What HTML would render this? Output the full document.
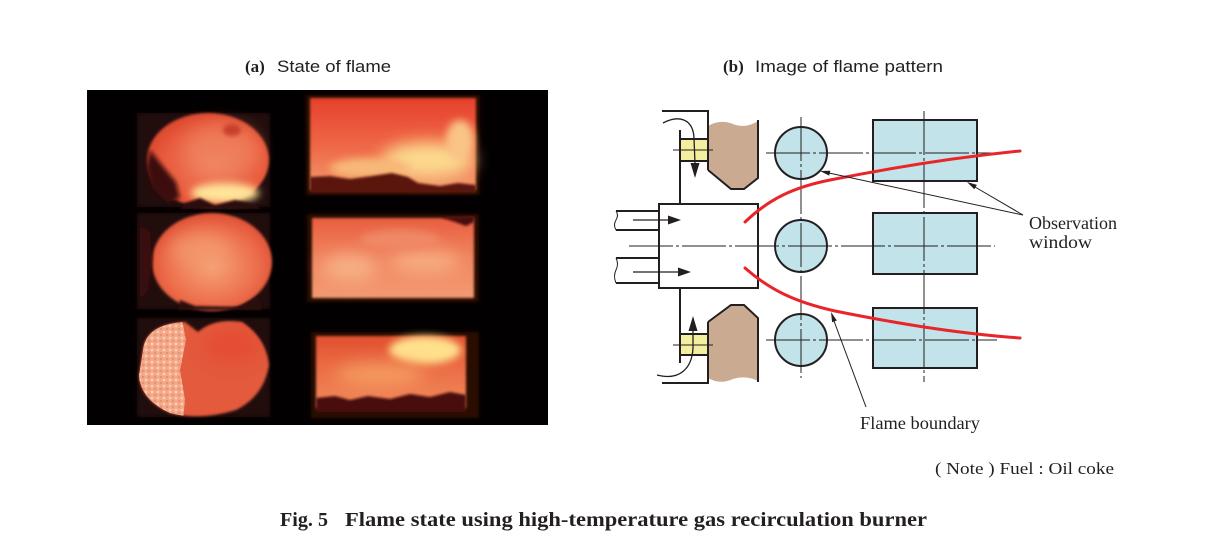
<!DOCTYPE html>
<html><head><meta charset="utf-8">
<style>
html,body{margin:0;padding:0;background:#fff;}
svg{display:block;}
</style></head><body>
<svg width="1223" height="539" viewBox="0 0 1223 539" xmlns="http://www.w3.org/2000/svg">
<defs>
<filter id="b1" x="-20%" y="-20%" width="140%" height="140%"><feGaussianBlur stdDeviation="1.2"/></filter>
<filter id="b2" x="-20%" y="-20%" width="140%" height="140%"><feGaussianBlur stdDeviation="2"/></filter>
<filter id="b4" x="-40%" y="-40%" width="180%" height="180%"><feGaussianBlur stdDeviation="4"/></filter>
<filter id="b8" x="-60%" y="-60%" width="220%" height="220%"><feGaussianBlur stdDeviation="8"/></filter>
<linearGradient id="lg2" x1="0" y1="0" x2="0" y2="1">
<stop offset="0" stop-color="#e6402c"/><stop offset="0.55" stop-color="#ef6a48"/><stop offset="1" stop-color="#f49a6c"/>
</linearGradient>
<radialGradient id="rg1" cx="0.55" cy="0.55" r="0.6">
<stop offset="0" stop-color="#f08060"/><stop offset="0.7" stop-color="#e85a3c"/><stop offset="1" stop-color="#d8442e"/>
</radialGradient>
<radialGradient id="rg3" cx="0.5" cy="0.55" r="0.6">
<stop offset="0" stop-color="#f6a276"/><stop offset="0.65" stop-color="#ec6c4a"/><stop offset="1" stop-color="#d94830"/>
</radialGradient>
<linearGradient id="lg4" x1="0" y1="0" x2="0" y2="1">
<stop offset="0" stop-color="#e85e40"/><stop offset="0.5" stop-color="#f08560"/><stop offset="1" stop-color="#f39a72"/>
</linearGradient>
<linearGradient id="lg6" x1="0" y1="0" x2="0" y2="1">
<stop offset="0" stop-color="#e0502f"/><stop offset="0.5" stop-color="#ec7048"/><stop offset="1" stop-color="#f08a5a"/>
</linearGradient>
<pattern id="tex" x="0" y="0" width="6" height="6" patternUnits="userSpaceOnUse">
<rect width="6" height="6" fill="#f2a888"/>
<circle cx="2" cy="2" r="1.3" fill="#fbd0b0"/>
<circle cx="5" cy="5" r="1" fill="#e88868"/>
</pattern>
<clipPath id="c5"><path d="M143,350 Q146,324 185,322 L198,332 Q214,318 242,322 Q266,338 269,365 Q264,396 236,410 Q200,421 170,413 Q141,400 139,376 Z"/></clipPath>
</defs>

<!-- (a) photo panel -->
<rect x="87" y="90" width="461" height="335" fill="#020000"/>

<!-- photo 1 -->
<rect x="137" y="113" width="133" height="94" fill="#240707" filter="url(#b2)"/>
<ellipse cx="208" cy="160" rx="61" ry="47" fill="url(#rg1)" filter="url(#b1)"/>
<ellipse cx="222" cy="150" rx="38" ry="26" fill="#f08a66" opacity="0.55" filter="url(#b8)"/>
<path d="M150,150 L162,165 L176,182 L180,198 L168,203 L152,188 L146,168 Z" fill="#3c0c08" filter="url(#b2)"/>
<ellipse cx="232" cy="130" rx="9" ry="6" fill="#c8402c" filter="url(#b2)"/>
<ellipse cx="225" cy="193" rx="34" ry="10" fill="#ffe49a" filter="url(#b4)"/>
<path d="M185,203 L200,198 L215,205 L235,200 L255,204 L262,209 L180,209 Z" fill="#2a0808" filter="url(#b1)"/>

<!-- photo 2 -->
<rect x="306" y="95" width="174" height="100" fill="#2a0806" filter="url(#b2)"/>
<rect x="310" y="98" width="166" height="92" fill="url(#lg2)" filter="url(#b1)"/>
<ellipse cx="428" cy="160" rx="46" ry="18" fill="#fcd98e" filter="url(#b8)"/>
<ellipse cx="370" cy="168" rx="40" ry="10" fill="#f8b878" filter="url(#b4)"/>
<ellipse cx="460" cy="140" rx="14" ry="20" fill="#f9c486" filter="url(#b4)"/>
<path d="M310,177 L330,176 L350,179 L372,176 L392,173 L408,177 L418,183 L440,186 L458,183 L476,185 L476,193 L310,193 Z" fill="#5a140c" filter="url(#b1)"/>

<!-- photo 3 -->
<rect x="137" y="213" width="133" height="96" fill="#240707" filter="url(#b2)"/>
<ellipse cx="212" cy="262" rx="60" ry="49" fill="url(#rg3)" filter="url(#b1)"/>
<ellipse cx="200" cy="250" rx="30" ry="16" fill="#f49c72" opacity="0.7" filter="url(#b8)"/>
<path d="M140,225 L150,232 L152,260 L148,290 L140,300 Z" fill="#3a0c08" filter="url(#b2)"/>
<path d="M180,300 L195,306 L240,307 L260,296 L262,310 L178,310 Z" fill="#2a0808" filter="url(#b1)"/>

<!-- photo 4 -->
<rect x="307" y="214" width="172" height="88" fill="#2a0806" filter="url(#b2)"/>
<rect x="312" y="218" width="162" height="80" fill="url(#lg4)" filter="url(#b1)"/>
<ellipse cx="350" cy="268" rx="28" ry="14" fill="#f7ae84" filter="url(#b8)"/>
<ellipse cx="425" cy="262" rx="35" ry="12" fill="#f7aa80" filter="url(#b8)"/>
<ellipse cx="400" cy="240" rx="40" ry="10" fill="#f08866" filter="url(#b4)"/>
<path d="M440,217 L455,222 L466,226 L474,222 L474,216 Z" fill="#4a100a" filter="url(#b1)"/>

<!-- photo 5 -->
<rect x="137" y="318" width="133" height="99" fill="#240707" filter="url(#b2)"/>
<path d="M143,350 Q146,324 185,322 L198,332 Q214,318 242,322 Q266,338 269,365 Q264,396 236,410 Q200,421 170,413 Q141,400 139,376 Z" fill="#e35a3c" filter="url(#b1)"/>
<g clip-path="url(#c5)">
<path d="M135,320 L182,320 L186,340 L180,370 L185,400 L183,420 L135,420 Z" fill="url(#tex)"/>
<ellipse cx="232" cy="345" rx="30" ry="18" fill="#e54a30" opacity="0.7" filter="url(#b8)"/>
</g>

<!-- photo 6 -->
<rect x="311" y="332" width="168" height="86" fill="#2a0806" filter="url(#b2)"/>
<rect x="316" y="336" width="150" height="72" fill="url(#lg6)" filter="url(#b1)"/>
<ellipse cx="425" cy="350" rx="36" ry="14" fill="#ffe08c" filter="url(#b4)"/>
<ellipse cx="380" cy="375" rx="45" ry="12" fill="#f4985e" filter="url(#b8)"/>
<path d="M316,398 L335,396 L350,400 L368,396 L390,399 L410,394 L430,397 L450,392 L466,395 L466,412 L316,412 Z" fill="#4a0e0a" filter="url(#b1)"/>

<!-- titles -->
<g fill="#231f20">
<text x="245" y="72" font-family="Liberation Serif, serif" font-weight="bold" font-size="17">(a)</text>
<text x="277" y="72" font-family="Liberation Sans, sans-serif" font-size="17" textLength="114" lengthAdjust="spacingAndGlyphs">State of flame</text>
<text x="723" y="72" font-family="Liberation Serif, serif" font-weight="bold" font-size="17">(b)</text>
<text x="755" y="72" font-family="Liberation Sans, sans-serif" font-size="17" textLength="188" lengthAdjust="spacingAndGlyphs">Image of flame pattern</text>
</g>

<!-- (b) diagram -->
<!-- brown blocks -->
<path d="M708,126 Q720,119 733,124 Q746,129 758,121 V178 L744,189 L731,189 L708,170 Z" fill="#caab92"/>
<path d="M708,322 L731,305 L744,305 L758,318 V381 Q746,375 733,379 Q720,385 708,378 Z" fill="#caab92"/>
<!-- yellow -->
<rect x="680" y="139" width="28" height="22" fill="#f3eea0" stroke="#231f20" stroke-width="2"/>
<rect x="680" y="334" width="28" height="21" fill="#f3eea0" stroke="#231f20" stroke-width="2"/>
<!-- circles & rects -->
<g fill="#c2e3e9" stroke="#231f20" stroke-width="2">
<circle cx="801" cy="153" r="26"/>
<circle cx="801" cy="246" r="26"/>
<circle cx="801" cy="340" r="26"/>
<rect x="873" y="120" width="104" height="61"/>
<rect x="873" y="213" width="104" height="61"/>
<rect x="873" y="308" width="104" height="60"/>
</g>
<!-- burner box -->
<rect x="659" y="204" width="99" height="84" fill="#fff" stroke="#231f20" stroke-width="2"/>
<!-- thick outlines -->
<g fill="none" stroke="#231f20" stroke-width="2">
<path d="M662,111 H708 V170"/>
<path d="M758,120 V178 L744,189 L731,189 L708,170"/>
<path d="M662,383 H708 V322"/>
<path d="M758,382 V318 L744,305 L731,305 L708,322"/>
<path d="M680,130 V204"/>
<path d="M680,288 V363"/>
<path d="M616,211 H659 M616,230 H659"/>
<path d="M616,258 H659 M616,283 H659"/>
</g>
<!-- pipe breaks -->
<g fill="none" stroke="#231f20" stroke-width="1">
<path d="M616,211 q3,4 0,9 q-3,5 0,10"/>
<path d="M616,258 q3,6 0,12 q-3,6 0,13"/>
</g>
<!-- centre lines -->
<g fill="none" stroke="#231f20" stroke-width="1" stroke-dasharray="44 3 3 3">
<path d="M629,246 H995"/>
<path d="M766,153 H997"/>
<path d="M766,340 H997"/>
<path d="M801,117 V378"/>
<path d="M924,111 V382"/>
<path d="M673,150 H713"/>
<path d="M673,345 H713"/>
</g>
<!-- flow arrows -->
<g fill="none" stroke="#231f20" stroke-width="1.3">
<path d="M633,220 H670"/>
<path d="M633,272 H680"/>
<path d="M663,123 C678,115 693,118 694,138 L695,164"/>
<path d="M657,375 C680,381 692,368 693,348 L693,330"/>
</g>
<g fill="#231f20">
<polygon points="681,220 668,215.5 668,224.5"/>
<polygon points="691,272 678,267.5 678,276.5"/>
<polygon points="695,178 690.5,163 699.5,163"/>
<polygon points="693,316 688.5,331 697.5,331"/>
</g>
<!-- flame boundary -->
<g fill="none" stroke="#e8262a" stroke-width="3" stroke-linecap="round">
<path d="M745,222 C770,198 795,187 830,180 C880,170 950,158 1020,151"/>
<path d="M745,268 C770,290 795,302 835,311 C885,321 950,333 1020,338"/>
</g>
<!-- leaders -->
<g fill="none" stroke="#231f20" stroke-width="1">
<path d="M1023,215 L829,173"/>
<path d="M1023,215 L975,187"/>
<path d="M866,407 L834,321"/>
</g>
<g fill="#231f20">
<polygon points="820,171 830.3,170.7 829.2,175.6"/>
<polygon points="967,182 976.9,184.9 974.3,189.2"/>
<polygon points="831,312 836.8,320.5 832.1,322.3"/>
</g>
<!-- labels -->
<g fill="#231f20" font-family="Liberation Serif, serif" font-size="18">
<text x="1029" y="229" textLength="88" lengthAdjust="spacingAndGlyphs">Observation</text>
<text x="1029" y="248" textLength="63" lengthAdjust="spacingAndGlyphs">window</text>
<text x="860" y="429" textLength="120" lengthAdjust="spacingAndGlyphs">Flame boundary</text>
<text x="935" y="474" font-size="17" textLength="179" lengthAdjust="spacingAndGlyphs">( Note )  Fuel : Oil coke</text>
</g>
<!-- caption -->
<g fill="#231f20" font-family="Liberation Serif, serif" font-weight="bold" font-size="20">
<text x="280" y="526" textLength="48" lengthAdjust="spacingAndGlyphs">Fig. 5</text>
<text x="345" y="526" textLength="582" lengthAdjust="spacingAndGlyphs">Flame state using high-temperature gas recirculation burner</text>
</g>
</svg>
</body></html>
